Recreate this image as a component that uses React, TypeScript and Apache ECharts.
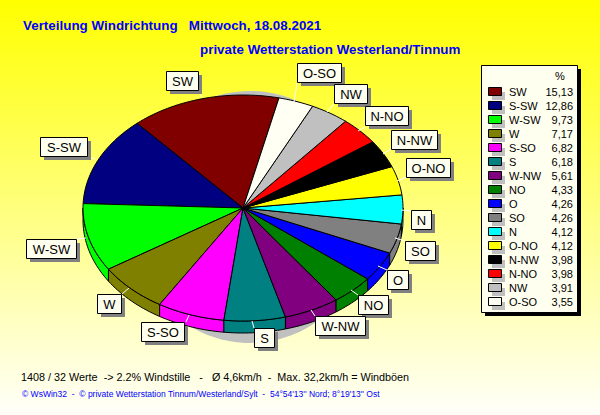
import React, { useEffect, useRef } from "react";
import * as echarts from "echarts";

const directions = ["SW", "S-SW", "W-SW", "W", "S-SO", "S", "W-NW", "NO", "O", "SO", "N", "O-NO", "N-NW", "N-NO", "NW", "O-SO"];
const percents = [15.13, 12.86, 9.73, 7.17, 6.82, 6.18, 5.61, 4.33, 4.26, 4.26, 4.12, 4.12, 3.98, 3.98, 3.91, 3.55];
const percentLabels = ["15,13", "12,86", "9,73", "7,17", "6,82", "6,18", "5,61", "4,33", "4,26", "4,26", "4,12", "4,12", "3,98", "3,98", "3,91", "3,55"];
const sliceColors = ["#800000", "#000080", "#00ff00", "#808000", "#ff00ff", "#008080", "#800080", "#008000", "#0000ff", "#808080", "#00ffff", "#ffff00", "#000000", "#ff0000", "#c0c0c0", "#fffff4"];

// label box [x0, y0, x1, y1] and leader [x0, y0, x1, y1], same order as directions
const labelBoxes = [
  [166, 71, 198, 90], [40, 137, 87, 156], [26, 239, 76, 258], [97, 294, 121, 313],
  [141, 322, 184, 341], [254, 328, 274, 347], [315, 316, 365, 335], [358, 295, 388, 314],
  [387, 270, 408, 289], [405, 241, 435, 260], [411, 210, 431, 229], [406, 158, 450, 177],
  [391, 130, 437, 149], [365, 106, 408, 125], [334, 84, 367, 103], [297, 63, 341, 82],
];
const leaders = [
  [199, 92, 202, 98], [88, 157, 95, 159], [77, 239, 86, 238], [122, 294, 129, 288],
  [186, 322, 189, 315], [254, 328, 252, 321], [315, 316, 311, 310], [358, 295, 351, 290],
  [387, 270, 378, 266], [405, 241, 395, 238], [411, 211, 401, 210], [407, 177, 397, 181],
  [391, 149, 383, 154], [365, 127, 358, 131], [334, 104, 327, 112], [297, 83, 294, 102],
];

const title = "Verteilung Windrichtung   Mittwoch, 18.08.2021";
const subtitle = "private Wetterstation Westerland/Tinnum";
const footer1 = "1408 / 32 Werte  -> 2.2% Windstille   -   Ø 4,6km/h  -  Max. 32,2km/h = Windböen";
const footer2 = "© WsWin32  -  © private Wetterstation Tinnum/Westerland/Sylt  -  54°54'13'' Nord; 8°19'13'' Ost";

const CX = 243, CY = 208, RX = 160, RY = 113, DEPTH = 12, START = 77;
const SANS = "Liberation Sans";

const pt = (deg: number, dy = 0) => {
  const r = (deg * Math.PI) / 180;
  return [CX + RX * Math.cos(r), CY - RY * Math.sin(r) + dy];
};
const arc = (a0: number, a1: number, dy = 0) => {
  const n = Math.max(2, Math.ceil(Math.abs(a1 - a0) / 1.5));
  const out: number[][] = [];
  for (let i = 0; i <= n; i++) out.push(pt(a0 + ((a1 - a0) * i) / n, dy));
  return out;
};

export default function App() {
  const ref = useRef<HTMLDivElement>(null);
  useEffect(() => {
    document.body.style.margin = "0";
    const chart = echarts.init(ref.current!, undefined, { renderer: "svg" });
    const total = percents.reduce((a, b) => a + b, 0);

    const renderItem = (_p: any, api: any) => {
      const i = api.value(0);
      let before = 0;
      for (let k = 0; k < i; k++) before += percents[k];
      const a0 = START + (before / total) * 360;
      const a1 = a0 + (api.value(1) / total) * 360;
      const fill = sliceColors[i];
      const stroke = { stroke: "#000", lineWidth: 1, fill };
      const children: any[] = [];
      const ranges = [[180, 360], [540, 720]];
      for (const [lo, hi] of ranges) {
        const s = Math.max(a0, lo), e = Math.min(a1, hi);
        if (e > s) {
          const top = arc(s, e);
          const bottom = arc(e, s, DEPTH);
          children.push({ type: "polygon", shape: { points: [...top, ...bottom] }, style: stroke });
        }
      }
      children.push({ type: "polygon", shape: { points: [[CX, CY], ...arc(a0, a1)] }, style: stroke });
      return { type: "group", children };
    };

    const graphic: any[] = [
      { type: "ellipse", z: 0, shape: { cx: 250, cy: 217, rx: 120, ry: 126 }, style: { fill: "#c0c0c0" } },
      { type: "text", z: 20, style: { text: title, x: 23, y: 25, fill: "#0000ff", font: `bold 13.4px ${SANS}`, textVerticalAlign: "middle" } },
      { type: "text", z: 20, style: { text: subtitle, x: 200, y: 49, fill: "#0000ff", font: `bold 13.4px ${SANS}`, textVerticalAlign: "middle" } },
      { type: "text", z: 20, style: { text: footer1, x: 21, y: 377, fill: "#000", font: `10.8px ${SANS}`, textVerticalAlign: "middle" } },
      { type: "text", z: 20, style: { text: footer2, x: 22, y: 394, fill: "#0000ff", font: `8.5px ${SANS}`, textVerticalAlign: "middle" } },
      { type: "rect", z: 20, shape: { x: 485, y: 69, width: 96, height: 247 }, style: { fill: "#000" } },
      { type: "rect", z: 21, shape: { x: 481.5, y: 65.5, width: 96, height: 247 }, style: { fill: "#fffff0", stroke: "#000", lineWidth: 1 } },
      { type: "text", z: 22, style: { text: "%", x: 560, y: 76, fill: "#000", font: `11px ${SANS}`, textAlign: "center", textVerticalAlign: "middle" } },
    ];

    directions.forEach((name, i) => {
      const rowY = 92 + i * 14;
      graphic.push(
        { type: "rect", z: 22, shape: { x: 492, y: rowY, width: 13, height: 8 }, style: { fill: "#c0c0c0" } },
        { type: "rect", z: 23, shape: { x: 488.5, y: rowY - 4.5, width: 13, height: 8 }, style: { fill: sliceColors[i], stroke: "#000", lineWidth: 1 } },
        { type: "text", z: 23, style: { text: name, x: 509, y: rowY, fill: "#000", font: `11px ${SANS}`, textVerticalAlign: "middle" } },
        { type: "text", z: 23, style: { text: percentLabels[i], x: 573, y: rowY, fill: "#000", font: `11px ${SANS}`, textAlign: "right", textVerticalAlign: "middle" } },
      );
      const [x0, y0, x1, y1] = labelBoxes[i];
      const [lx0, ly0, lx1, ly1] = leaders[i];
      graphic.push(
        { type: "line", z: 10, shape: { x1: lx0, y1: ly0, x2: lx1, y2: ly1 }, style: { stroke: "#ffffff", lineWidth: 1 } },
        { type: "rect", z: 11, shape: { x: x0 + 4, y: y0 + 4, width: x1 - x0, height: y1 - y0 }, style: { fill: "#808080" } },
        { type: "rect", z: 12, shape: { x: x0 + 0.5, y: y0 + 0.5, width: x1 - x0, height: y1 - y0 }, style: { fill: "#fffff0", stroke: "#000", lineWidth: 1 } },
        { type: "text", z: 13, style: { text: name, x: (x0 + x1) / 2 + 0.5, y: (y0 + y1) / 2 + 1, fill: "#000", font: `13px ${SANS}`, textAlign: "center", textVerticalAlign: "middle" } },
      );
    });

    chart.setOption({
      animation: false,
      backgroundColor: new echarts.graphic.LinearGradient(0, 0, 0, 1, [
        { offset: 0, color: "#ffff00" },
        { offset: 1, color: "#fffffa" },
      ]),
      graphic,
      series: [
        {
          type: "custom",
          coordinateSystem: "none",
          z: 2,
          silent: true,
          renderItem,
          data: percents.map((v, i) => ({ name: directions[i], value: [i, v] })),
        },
      ],
    });
    return () => chart.dispose();
  }, []);
  return <div ref={ref} style={{ width: 600, height: 415 }} />;
}
